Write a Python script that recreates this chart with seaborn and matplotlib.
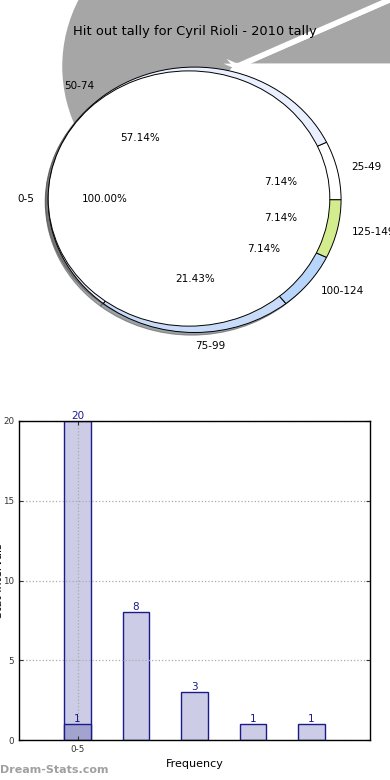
import matplotlib
matplotlib.use("Agg")
import matplotlib.pyplot as plt
import numpy as np
import pandas as pd
import seaborn as sns

title = "Hit out tally for Cyril Rioli - 2010 tally"

# top pie: one full slice for 0-5, the other ranges drawn as a ring behind it
total_bins = ["0-5"]
total_counts = [20]
pie_bins = ["25-49", "50-74", "75-99", "100-124", "125-149"]
pie_counts = [1, 8, 3, 1, 1]
pie_colors = ["#ffffff", "#eaf0ff", "#c8dcfa", "#b8d6fb", "#d3ec8e"]
shadow_colors = ["#a6a6a6", "#a6a6a6", "none", "none", "none"]

# bottom bars
bar_bins = ["0-5", "50-74", "75-99", "25-49", "100-124"]
bar_counts = [20, 8, 3, 1, 1]
overlay_bins = ["0-5"]
overlay_counts = [1]

navy = "#1a1a8c"

fig = plt.figure(figsize=(3.9, 7.8), dpi=100)

# ---- pie ----
ax1 = fig.add_axes([13 / 390, 0.541, 352 / 390, 0.409])

# the big grey shadow bleeding off the top
ax1.pie(pie_counts, colors=shadow_colors, center=(0.34, 1.035), radius=1.26,
        wedgeprops=dict(edgecolor="white", linewidth=4, zorder=1))

ax1.pie(pie_counts, labels=pie_bins, colors=pie_colors, autopct="%.2f%%",
        center=(0.04, -0.01), radius=1.04, startangle=0,
        shadow=dict(ox=-0.015, oy=-0.015, zorder=2.5),
        wedgeprops=dict(edgecolor="black", linewidth=0.7, zorder=2.8),
        textprops=dict(fontsize=7.5))

ax1.pie(total_counts, labels=total_bins, colors=["white"], autopct="%.2f%%",
        center=(0, 0), radius=1.0,
        shadow=dict(ox=-0.015, oy=-0.015, zorder=2.7),
        wedgeprops=dict(edgecolor="black", linewidth=0.7, zorder=2.95),
        textprops=dict(fontsize=7.5))

ax1.set_aspect("auto")
ax1.set_xlim(-1.25, 1.25)
ax1.set_ylim(-1.25, 1.25)
ax1.set_title(title, fontsize=9.4, pad=3, x=0.517, zorder=5)

# ---- bars ----
ax2 = fig.add_axes([19 / 390, 40 / 780, 351 / 390, 319 / 780])
df = pd.DataFrame({"bin": bar_bins, "count": bar_counts})
sns.barplot(data=df, x="bin", y="count", order=bar_bins, color="#ccccE6",
            saturation=1, width=0.45, edgecolor=navy, linewidth=1, ax=ax2)
sns.barplot(x=overlay_bins, y=overlay_counts, order=bar_bins, color="#a3a3d0",
            saturation=1, width=0.45, edgecolor=navy, linewidth=1, ax=ax2)

for p in ax2.patches:
    h = p.get_height()
    if np.isfinite(h) and h > 0:
        ax2.text(p.get_x() + p.get_width() / 2, h, f"{int(h)}", ha="center",
                 va="bottom", color=navy, fontsize=7.5)

ax2.set_xlim(-1, 5)
ax2.set_ylim(0, 20)
ax2.set_yticks([0, 5, 10, 15, 20])
ax2.set_xticks([0])
ax2.set_xticklabels(["0-5"])
ax2.grid(True, linestyle=":", color="#aaaaaa", linewidth=0.9)
ax2.xaxis.set_zorder(2)
ax2.yaxis.set_zorder(2)
ax2.tick_params(direction="in", length=3, labelsize=6.3, top=True, right=True,
                colors="#333333")
for s in ax2.spines.values():
    s.set_color("black")
    s.set_linewidth(1)
    s.set_zorder(3)
ax2.set_xlabel("Frequency", fontsize=8)
ax2.set_ylabel("Stat Intervals", fontsize=8)
ax2.yaxis.set_label_coords(-0.042, 0.5)

fig.text(0.0, 10 / 780, "Dream-Stats.com", color="#a0a0a0", fontsize=8,
         fontweight="bold", ha="left", va="center")

fig.savefig("out.png", dpi=100)
